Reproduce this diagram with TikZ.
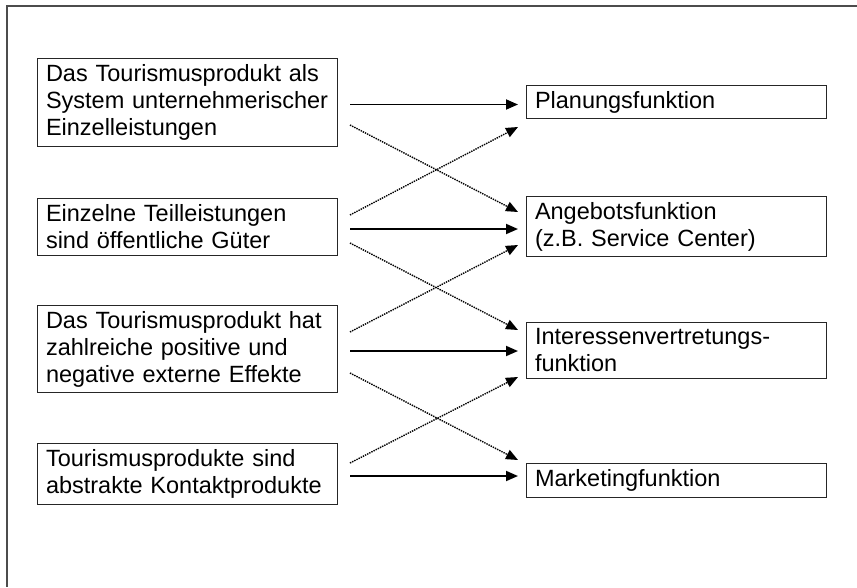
\documentclass[tikz,border=0pt]{standalone}
\usepackage{fontspec}
\setmainfont{Liberation Sans}
\usetikzlibrary{arrows.meta,positioning}

\begin{document}
\begin{tikzpicture}[>={Triangle[length=12pt,width=10pt]}, box/.style={draw=black!85, line width=1pt, anchor=west, text width=283pt, inner xsep=8.5pt, inner ysep=6pt, align=left, font=\fontsize{23.5pt}{27pt}\selectfont}, main/.style={->, line width=1.8pt}, side/.style={->, densely dotted, line width=1.4pt}]
	\useasboundingbox (0pt, 0pt) rectangle (857pt, -587pt);
	\draw[gray!60!black, line width=1.2pt] (857pt, -6pt) -- (7pt, -6pt) -- (7pt, -587pt);
	% left column
	\draw (37.0pt, -102.5pt)node[box](l1){Das Tourismusprodukt als\\System unternehmerischer\\Einzelleistungen};
	\draw (37.0pt, -227.0pt)node[box](l2){Einzelne Teilleistungen\\sind öffentliche Güter};
	\draw (37.0pt, -349.0pt)node[box](l3){Das Tourismusprodukt hat\\zahlreiche positive und\\negative externe Effekte};
	\draw (37.0pt, -474.0pt)node[box](l4){Tourismusprodukte sind\\abstrakte Kontaktprodukte};
	% right column
	\draw (526.0pt, -102.0pt)node[box](r1){Planungsfunktion};
	\draw (526.0pt, -226.5pt)node[box](r2){Angebotsfunktion\\(z.B. Service Center)};
	\draw (526.0pt, -350.5pt)node[box](r3){Interessenvertretungs-\\funktion};
	\draw (526.0pt, -480.5pt)node[box](r4){Marketingfunktion};
	\foreach \i in {1,...,4} {
		\coordinate (a\i) at ([xshift=12pt]l\i.east);
		\coordinate (b\i) at ([xshift=-8pt]r\i.west);
		\draw[main] ([yshift=-2pt]a\i) -- ([yshift=-2pt]a\i -| b\i);
	}
	\draw[side] ([yshift=-22.5pt]a1) -- ([yshift=14.5pt]b2);
	\draw[side] ([yshift=12pt]a2) -- ([yshift=-25pt]b1);
	\draw[side] ([yshift=-16pt]a2) -- ([yshift=20.5pt]b3);
	\draw[side] ([yshift=17pt]a3) -- ([yshift=-18.5pt]b2);
	\draw[side] ([yshift=-24pt]a3) -- ([yshift=20.5pt]b4);
	\draw[side] ([yshift=11pt]a4) -- ([yshift=-26.5pt]b3);
\end{tikzpicture}
\end{document}
